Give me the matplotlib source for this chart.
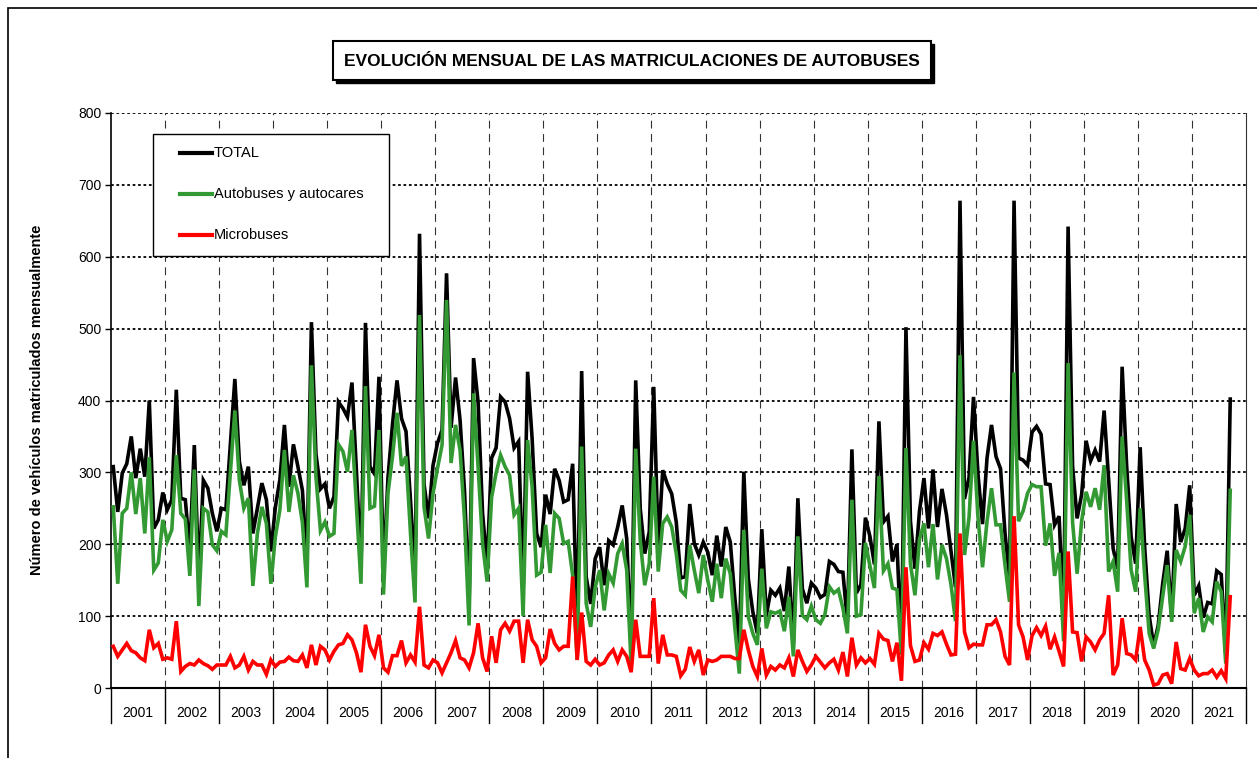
import numpy as np
import matplotlib.pyplot as plt
from matplotlib.patches import Rectangle
from matplotlib.lines import Line2D
from matplotlib.transforms import blended_transform_factory

plt.rcParams['font.family'] = ['Liberation Sans', 'DejaVu Sans']

# datos mensuales ene-2001 .. sep-2021
years = list(range(2001, 2022))

total = [
    308, 245, 299, 312, 350, 292, 333, 294, 400, 222, 234, 272,   # 2001
    248, 262, 415, 264, 262, 190, 338, 153, 289, 278, 243, 218,   # 2002
    250, 248, 340, 430, 315, 282, 308, 215, 250, 285, 262, 190,   # 2003
    252, 290, 366, 280, 339, 308, 275, 170, 509, 326, 277, 284,   # 2004
    250, 266, 398, 389, 377, 425, 301, 167, 508, 308, 298, 433,   # 2005
    158, 293, 367, 428, 375, 357, 261, 155, 632, 284, 236, 310,   # 2006
    341, 359, 577, 362, 432, 373, 273, 115, 459, 398, 243, 171,   # 2007
    320, 334, 405, 398, 375, 334, 343, 135, 440, 347, 215, 196,   # 2008
    269, 242, 305, 289, 259, 262, 312, 78, 441, 155, 117, 180,    # 2009
    196, 143, 205, 199, 224, 254, 208, 52, 428, 250, 187, 217,    # 2010
    419, 196, 303, 284, 270, 231, 153, 155, 256, 201, 185, 203,   # 2011
    189, 157, 212, 169, 224, 203, 126, 61, 301, 152, 106, 76,     # 2012
    221, 101, 136, 129, 139, 107, 169, 60, 264, 138, 118, 146,    # 2013
    139, 126, 130, 176, 172, 162, 161, 92, 332, 132, 144, 237,    # 2014
    211, 172, 371, 231, 239, 176, 200, 56, 502, 232, 166, 246,    # 2015
    292, 222, 304, 224, 277, 241, 190, 140, 678, 263, 293, 405,   # 2016
    297, 228, 320, 366, 322, 305, 215, 152, 678, 320, 317, 310,   # 2017
    356, 364, 353, 284, 283, 227, 239, 95, 642, 308, 236, 269,    # 2018
    344, 316, 331, 315, 386, 291, 194, 166, 447, 309, 210, 173,   # 2019
    335, 196, 101, 59, 87, 145, 191, 98, 256, 203, 222, 282,      # 2020
    129, 142, 98, 119, 117, 163, 158, 47, 402,                    # 2021
]

autobuses = [
    252, 145, 243, 250, 300, 242, 292, 215, 321, 164, 174, 234,
    204, 220, 324, 243, 235, 156, 304, 114, 250, 245, 199, 191,
    218, 213, 300, 386, 289, 250, 264, 142, 215, 252, 229, 145,
    211, 248, 331, 245, 296, 271, 230, 140, 449, 294, 219, 231,
    211, 215, 339, 329, 301, 359, 252, 145, 420, 250, 253, 359,
    130, 271, 322, 383, 309, 322, 215, 119, 519, 252, 208, 271,
    306, 338, 540, 313, 366, 331, 234, 87, 410, 308, 201, 148,
    265, 299, 324, 308, 296, 241, 250, 100, 345, 280, 157, 161,
    227, 160, 243, 236, 201, 204, 157, 39, 336, 118, 85, 140,
    164, 108, 159, 146, 187, 201, 164, 30, 333, 206, 143, 173,
    294, 162, 229, 238, 224, 187, 136, 129, 199, 164, 132, 185,
    150, 120, 173, 125, 180, 159, 85, 20, 220, 99, 76, 60,
    166, 83, 106, 104, 107, 79, 127, 44, 211, 101, 95, 114,
    95, 90, 102, 141, 132, 137, 111, 76, 262, 100, 102, 202,
    170, 139, 295, 163, 173, 139, 137, 46, 334, 173, 129, 207,
    229, 168, 228, 151, 199, 180, 144, 93, 463, 185, 237, 344,
    237, 168, 232, 278, 227, 227, 171, 120, 439, 232, 246, 271,
    283, 280, 280, 198, 229, 156, 188, 65, 452, 230, 159, 232,
    273, 252, 278, 248, 310, 162, 176, 134, 350, 261, 164, 134,
    250, 157, 76, 55, 81, 127, 171, 92, 192, 176, 197, 241,
    104, 125, 78, 99, 92, 148, 134, 34, 275,
]

microbuses = [
    58, 44, 53, 62, 52, 49, 42, 38, 81, 56, 62, 40,
    42, 40, 93, 23, 30, 34, 32, 39, 34, 31, 26, 32,
    32, 32, 44, 28, 32, 44, 25, 37, 32, 32, 19, 39,
    30, 36, 37, 43, 38, 37, 46, 28, 60, 32, 58, 53,
    39, 51, 60, 62, 74, 67, 49, 22, 88, 58, 45, 74,
    28, 22, 45, 45, 66, 35, 46, 36, 113, 32, 28, 39,
    35, 21, 35, 49, 66, 42, 39, 28, 49, 90, 42, 23,
    72, 35, 81, 90, 79, 93, 93, 35, 95, 67, 58, 35,
    42, 82, 62, 53, 58, 58, 155, 39, 105, 37, 32, 40,
    32, 35, 46, 53, 37, 53, 44, 22, 95, 44, 44, 44,
    125, 34, 74, 46, 46, 44, 17, 26, 57, 37, 53, 18,
    39, 37, 39, 44, 44, 44, 41, 41, 81, 53, 30, 16,
    55, 18, 30, 25, 32, 28, 42, 16, 53, 37, 23, 32,
    44, 36, 28, 35, 40, 25, 50, 16, 70, 32, 42, 35,
    41, 33, 76, 68, 66, 37, 63, 10, 168, 59, 37, 39,
    63, 54, 76, 73, 78, 61, 46, 47, 215, 78, 56, 61,
    60, 60, 88, 88, 95, 78, 44, 32, 239, 88, 71, 39,
    73, 84, 73, 86, 54, 71, 51, 30, 190, 78, 77, 37,
    71, 64, 53, 67, 76, 129, 18, 32, 97, 48, 46, 39,
    85, 39, 25, 4, 6, 18, 20, 6, 64, 27, 25, 41,
    25, 17, 20, 20, 25, 15, 24, 13, 127,
]

series = [
    ("TOTAL", total, "black"),
    ("Autobuses y autocares", autobuses, "#339933"),
    ("Microbuses", microbuses, "#ff0000"),
]

W, H = 1257, 758
fig = plt.figure(figsize=(W / 100, H / 100), dpi=100)


def box(x0, y0, x1, y1):
    # rectángulo en píxeles (origen arriba-izquierda) -> fracción de figura
    return [x0 / W, 1 - y1 / H, (x1 - x0) / W, (y1 - y0) / H]


# marco exterior del gráfico
fig.add_artist(Rectangle((8 / W, -0.1), 1.2, 1.1 - 8 / H, transform=fig.transFigure,
                         fill=False, ec="black", lw=1.2))

# título con sombra
tx0, ty0, tx1, ty1 = box(333, 41, 931, 80)[0], box(333, 41, 931, 80)[1], \
    box(333, 41, 931, 80)[2], box(333, 41, 931, 80)[3]
fig.add_artist(Rectangle((tx0 + 3 / W, ty0 - 3 / H), tx1, ty1, transform=fig.transFigure,
                         fc="black", ec="black", lw=1))
fig.add_artist(Rectangle((tx0, ty0), tx1, ty1, transform=fig.transFigure,
                         fc="white", ec="black", lw=1.5))
fig.text((333 + 931) / 2 / W, 1 - 61 / H, "EVOLUCIÓN MENSUAL DE LAS MATRICULACIONES DE AUTOBUSES",
         ha="center", va="center", fontsize=12.5, fontweight="bold")

ax = fig.add_axes(box(111, 113, 1246, 688))
n_months = 12 * len(years)
x = np.arange(len(total)) + 0.5
for name, vals, color in series:
    ax.plot(x, vals, color=color, lw=2.6, label=name, solid_joinstyle="miter", zorder=3)

ax.set_xlim(0, n_months)
ax.set_ylim(0, 800)
ax.set_yticks(range(0, 801, 100))
ax.set_xticks([])
ax.tick_params(axis="y", direction="out", length=4, width=1, labelsize=10, pad=3)
ax.yaxis.grid(True, color="black", ls=(0, (1.5, 1.5)), lw=1.3)
ax.set_axisbelow(True)
for k in range(1, len(years)):
    ax.axvline(12 * k, color="#333333", ls=(0, (7, 5)), lw=0.8, zorder=1)

ax.spines["top"].set_visible(False)
ax.spines["right"].set_color("#333333")
ax.spines["left"].set_linewidth(1.2)
ax.spines["bottom"].set_linewidth(1.5)

# etiquetas de año bajo el eje
trans = blended_transform_factory(ax.transData, ax.transAxes)
for k in range(len(years) + 1):
    ax.plot([12 * k, 12 * k], [0, -0.061], color="black", lw=1, transform=trans, clip_on=False)
for k, yr in enumerate(years):
    ax.text(12 * k + 6, -0.044, str(yr), transform=trans, ha="center", va="center", fontsize=10)

fig.text(37 / W, 1 - 400 / H, "Número de vehículos matriculados mensualmente",
         rotation=90, ha="center", va="center", fontsize=10.5, fontweight="bold")

# leyenda
fig.add_artist(Rectangle(box(153, 134, 389, 256)[:2], *box(153, 134, 389, 256)[2:],
                         transform=fig.transFigure, fc="white", ec="black", lw=1, zorder=5))
for row, (name, vals, color) in enumerate(series):
    yy = 1 - (153 + row * 41) / H
    fig.add_artist(Line2D([180 / W, 212 / W], [yy, yy], color=color, lw=3,
                          transform=fig.transFigure, zorder=6))
    fig.text(214 / W, yy, name, ha="left", va="center", fontsize=10.5, zorder=6)

fig.savefig("out.png", dpi=100)
